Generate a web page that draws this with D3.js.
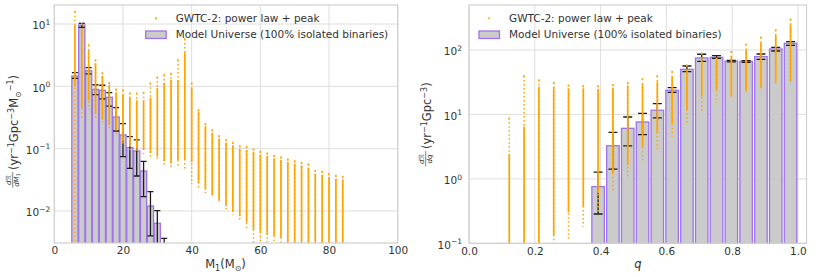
<!DOCTYPE html>
<html><head><meta charset="utf-8">
<script src="https://cdn.jsdelivr.net/npm/d3@7"></script>
<style>body{margin:0;background:#fff} svg{display:block} text{font-family:"DejaVu Sans",sans-serif}</style>
</head><body><svg id="c" width="818" height="277"></svg>
<script>
// ---------- Left panel: primary mass ----------
const m1Bins   = [6, 8, 10, 12, 14, 16, 18, 20, 22, 24, 26, 28, 30, 32];
const m1Rate   = [1.47, 9.64, 1.78, 0.895, 0.863, 0.667, 0.322, 0.166, 0.104, 0.0917, 0.0438, 0.0120, 0.00634, 0.0025];
const m1ErrHi  = [1.66, 10.25, 2.0, 1.06, 1.04, 0.792, 0.455, 0.252, 0.156, 0.138, 0.0627, 0.0204, 0.0101, 0.00364];
const m1ErrLo  = [1.34, 8.84, 1.58, 0.734, 0.627, 0.483, 0.192, 0.0745, 0.0483, 0.0364, 0.017, 0.00397, 0.0015, 0.001];

const m1Cols    = [6,8,10,12,14,16,18,20,22,24,26,28,30,32,34,36,38,40,42,44,46,48,50,52,54,56,58,60,62,64,66,68,70,72,74,76,78,80,82,84];
const m1ColHi   = [15.8,10,4.6,2.64,1.64,1.14,0.895,0.873,0.773,0.773,0.79,1.12,1.4,1.52,1.6,2.64,5.74,1.12,0.417,0.249,0.199,0.16,0.138,0.125,0.11,0.107,0.0977,0.0894,0.0843,0.0771,0.0726,0.0674,0.0633,0.0595,0.0561,0.0443,0.0427,0.0392,0.0368,0.0355];
const m1ColDHi  = [9.6,8.6,3.8,2.36,1.46,1.05,0.8,0.73,0.68,0.6,0.6,0.65,0.94,1.12,1.26,1.26,3.5,0.94,0.39,0.23,0.18,0.145,0.125,0.113,0.1,0.095,0.088,0.08,0.076,0.07,0.066,0.061,0.057,0.054,0.05,0.04,0.038,0.035,0.033,0.032];
const m1ColDLo  = [1.0,0.45,0.6,0.36,0.29,0.24,0.2,0.13,0.11,0.1,0.095,0.085,0.075,0.063,0.058,0.066,0.066,0.061,0.028,0.022,0.018,0.015,0.012,0.0098,0.0082,0.0065,0.005,0.0045,0.0042,0.004,0.0037,0.003,0.003,0.003,0.003,0.003,0.003,0.003,0.003,0.003];
const m1ColLo   = [0.0032,0.3,0.42,0.3,0.25,0.2,0.17,0.11,0.095,0.088,0.08,0.072,0.063,0.055,0.049,0.049,0.045,0.027,0.0234,0.0194,0.0162,0.0134,0.0104,0.0086,0.0072,0.0053,0.003,0.003,0.003,0.003,0.003,0.003,0.003,0.003,0.003,0.003,0.003,0.003,0.003,0.003];

const m1Ticks  = [0, 20, 40, 60, 80, 100];
const m1YTicks = [0.01, 0.1, 1, 10];

// ---------- Right panel: mass ratio ----------
const qBins   = [0.3925,0.4375,0.4825,0.5275,0.5725,0.6175,0.6625,0.7075,0.7525,0.7975,0.8425,0.8875,0.9325,0.9775];
const qRate   = [0.757,3.27,6.08,7.64,11.6,23.7,50.1,75.2,76.9,67.5,66.7,78.9,103.7,126.9];
const qErrHi  = [1.27,5.27,9.12,10.4,14.7,26.0,56.4,85.8,81.6,69.2,68.3,86.7,110,134.6];
const qErrLo  = [0.285,1.42,3.24,4.85,8.81,22.0,46.2,66.7,74.3,65.2,64.4,71.6,96.5,118];

const qCols   = [0.1225,0.1675,0.2125,0.2575,0.3025,0.3475,0.3925,0.4375,0.4825,0.5275,0.5725,0.6175,0.6625,0.7075,0.7525,0.7975,0.8425,0.8875,0.9325,0.9775];
const qColHi  = [8.7,39.5,34,31,28.3,27.6,27.6,28.8,31,35.6,39.5,46,58,89,74,94,122,157,204,299];
const qColDHi = [2.4,6.5,27,27,25.4,25.4,25,26,28,30,32,38,50,75,70,80,100,130,170,250];
const qColDLo = [0.09,0.09,0.09,0.13,0.3,0.37,0.6,1.23,1.64,3.16,5.1,7.3,11.7,18.9,24,19,22.5,25.4,32,32];
const qColLo  = [0.09,0.09,0.09,0.1,0.11,0.18,0.3,0.63,1.08,1.78,2.88,4.5,6.9,10.4,15,19,22.5,25.4,28,30];

const qTicks  = [0, 0.2, 0.4, 0.6, 0.8, 1.0];
const qYTicks = [0.1, 1, 10, 100];

const legendLabels = ["GWTC-2: power law + peak", "Model Universe (100% isolated binaries)"];

// ---------- drawing ----------
const svg = d3.select("#c");
const ORANGE = "#ffa500", BARFILL = "#cbcbcb", BAREDGE = "#9d74ec", GRID = "#dedede", FRAME = "#cfcfcf", TXT = "#333";

function supLabel(sel, v) {
  const e = Math.round(Math.log10(v));
  sel.text(null);
  sel.append("tspan").text("10");
  sel.append("tspan").attr("dy", -4.5).attr("font-size", 7.5).text(e < 0 ? "\u2212" + (-e) : String(e));
}

function panel(o) {
  const g = svg.append("g");
  const x = d3.scaleLinear().domain(o.xDomain).range([o.x0, o.x1]);
  const y = d3.scaleLog().domain(o.yDomain).range([o.y1, o.y0]);
  const cid = "clip" + o.id;
  svg.append("clipPath").attr("id", cid).append("rect")
    .attr("x", o.x0).attr("y", o.y0).attr("width", o.x1 - o.x0).attr("height", o.y1 - o.y0);

  // grid
  g.selectAll(".gx").data(o.xTicks).join("line")
    .attr("x1", d => x(d)).attr("x2", d => x(d)).attr("y1", o.y0).attr("y2", o.y1)
    .attr("stroke", GRID).attr("stroke-width", 1);
  g.selectAll(".gy").data(o.yTicks).join("line")
    .attr("x1", o.x0).attr("x2", o.x1).attr("y1", d => y(d)).attr("y2", d => y(d))
    .attr("stroke", GRID).attr("stroke-width", 1);

  const plot = g.append("g").attr("clip-path", `url(#${cid})`);
  // bars
  plot.selectAll("rect.bar").data(o.bins).join("rect").attr("class", "bar")
    .attr("x", d => x(d - o.barW / 2)).attr("width", d => x(d + o.barW / 2) - x(d - o.barW / 2))
    .attr("y", (d, i) => y(o.rate[i])).attr("height", (d, i) => Math.max(0, o.y1 + 2 - y(o.rate[i])))
    .attr("fill", BARFILL).attr("stroke", BAREDGE).attr("stroke-width", 1.3);
  // error bars
  const eb = plot.selectAll("g.eb").data(o.bins).join("g").attr("class", "eb")
    .attr("stroke", "#1c1c1c").attr("stroke-width", 1.3);
  eb.append("line").attr("x1", d => x(d)).attr("x2", d => x(d))
    .attr("y1", (d, i) => y(o.errHi[i])).attr("y2", (d, i) => y(o.errLo[i]));
  eb.append("line").attr("x1", d => x(d) - o.cap).attr("x2", d => x(d) + o.cap)
    .attr("y1", (d, i) => y(o.errHi[i])).attr("y2", (d, i) => y(o.errHi[i]));
  eb.append("line").attr("x1", d => x(d) - o.cap).attr("x2", d => x(d) + o.cap)
    .attr("y1", (d, i) => y(o.errLo[i])).attr("y2", (d, i) => y(o.errLo[i]));

  // orange scatter columns
  const sc = plot.selectAll("g.sc").data(o.cols).join("g").attr("class", "sc");
  sc.append("line").attr("x1", d => x(d)).attr("x2", d => x(d))
    .attr("y1", (d, i) => y(o.cHi[i])).attr("y2", (d, i) => y(o.cLo[i]))
    .attr("stroke", ORANGE).attr("stroke-width", 1.5).attr("stroke-dasharray", "1.4,2.6");
  sc.append("line").attr("x1", d => x(d)).attr("x2", d => x(d))
    .attr("y1", (d, i) => y(o.cDHi[i])).attr("y2", (d, i) => y(o.cDLo[i]))
    .attr("stroke", ORANGE).attr("stroke-width", 1.7);
  sc.append("rect").attr("x", d => x(d) - 0.8).attr("y", (d, i) => y(o.cHi[i]) - 0.8)
    .attr("width", 1.6).attr("height", 1.6).attr("fill", ORANGE);

  // frame
  g.append("rect").attr("x", o.x0).attr("y", o.y0).attr("width", o.x1 - o.x0).attr("height", o.y1 - o.y0)
    .attr("fill", "none").attr("stroke", FRAME).attr("stroke-width", 1.2);

  // axes
  const ax = g.append("g").attr("transform", `translate(0,${o.y1})`)
    .call(d3.axisBottom(x).tickValues(o.xTicks).tickSize(0).tickPadding(4).tickFormat(o.xFmt));
  ax.select(".domain").remove();
  ax.selectAll("text").attr("font-size", 10.5).attr("fill", TXT).attr("font-family", "DejaVu Sans");
  const ay = g.append("g").attr("transform", `translate(${o.x0},0)`)
    .call(d3.axisLeft(y).tickValues(o.yTicks).tickSize(0).tickPadding(o.yPad));
  ay.select(".domain").remove();
  ay.selectAll("text").attr("font-size", 10.5).attr("fill", TXT).attr("font-family", "DejaVu Sans")
    .attr("dy", "0.45em").each(function (d) { supLabel(d3.select(this), d); });

  // legend
  const lg = g.append("g");
  lg.append("rect").attr("x", o.legX - 20.7).attr("y", 17.4).attr("width", 1.8).attr("height", 1.8).attr("fill", ORANGE);
  lg.append("rect").attr("x", o.legX - 30).attr("y", 31).attr("width", 20.5).attr("height", 7.5)
    .attr("fill", BARFILL).attr("stroke", BAREDGE).attr("stroke-width", 1.3);
  lg.selectAll("text").data(legendLabels).join("text")
    .attr("x", o.legX).attr("y", (d, i) => 22 + i * 16.2)
    .attr("font-size", 10.5).attr("fill", TXT).text(d => d);
  return g;
}

panel({
  id: "L", x0: 54.3, x1: 397.7, y0: 5, y1: 243,
  xDomain: [0, 100], yDomain: [0.00306, 20.2],
  xTicks: m1Ticks, yTicks: m1YTicks, xFmt: d3.format("d"), yPad: 4,
  bins: m1Bins, rate: m1Rate, errHi: m1ErrHi, errLo: m1ErrLo, barW: 1.8, cap: 3,
  cols: m1Cols, cHi: m1ColHi, cDHi: m1ColDHi, cDLo: m1ColDLo, cLo: m1ColLo,
  legX: 175.7
});
panel({
  id: "R", x0: 469, x1: 806.5, y0: 5, y1: 243.3,
  xDomain: [0, 1.026], yDomain: [0.1, 499],
  xTicks: qTicks, yTicks: qYTicks, xFmt: d3.format(".1f"), yPad: 7,
  bins: qBins, rate: qRate, errHi: qErrHi, errLo: qErrLo, barW: 0.038, cap: 4.5,
  cols: qCols, cHi: qColHi, cDHi: qColDHi, cDLo: qColDLo, cLo: qColLo,
  legX: 509
});

// axis titles
const xl = svg.append("text").attr("x", 225.5).attr("y", 268).attr("text-anchor", "middle")
  .attr("font-size", 11.5).attr("fill", TXT);
xl.append("tspan").text("M");
xl.append("tspan").attr("dy", 2.5).attr("font-size", 8).text("1");
xl.append("tspan").attr("dy", -2.5).text("(M");
xl.append("tspan").attr("dy", 2.5).attr("font-size", 8).text("\u2299");
xl.append("tspan").attr("dy", -2.5).text(")");

svg.append("text").attr("x", 638).attr("y", 268).attr("text-anchor", "middle")
  .attr("font-size", 11.5).attr("font-style", "italic").attr("fill", TXT).text("q");

function ylabel(tx, ty, num, den, denSub, parts) {
  const g = svg.append("g").attr("transform", `translate(${tx},${ty}) rotate(-90)`).attr("fill", TXT);
  const fw = 16;
  g.append("text").attr("x", fw / 2).attr("y", -8).attr("text-anchor", "middle")
    .attr("font-size", 7).attr("font-style", "italic").text(num);
  g.append("line").attr("x1", 0.5).attr("x2", fw).attr("y1", -6.3).attr("y2", -6.3)
    .attr("stroke", TXT).attr("stroke-width", 0.6);
  const d = g.append("text").attr("x", fw / 2).attr("y", -0.5).attr("text-anchor", "middle")
    .attr("font-size", 7).attr("font-style", "italic");
  d.append("tspan").text(den);
  if (denSub) d.append("tspan").attr("dy", 1.5).attr("font-size", 5).attr("font-style", "normal").text(denSub);
  const t = g.append("text").attr("x", fw + 2).attr("y", -1).attr("font-size", 11.5);
  parts.forEach(p => {
    t.append("tspan").attr("dy", p[1]).attr("font-size", p[2] || 11.5).text(p[0]);
  });
}
ylabel(19, 188, "d\u211B", "dM", "1", [
  ["(yr", 0], ["\u22121", -4.5, 8], ["Gpc", 4.5], ["\u22123", -4.5, 8], ["M", 4.5],
  ["\u2299", 2.5, 8], ["\u22121", -7.5, 8], [")", 5]
]);
ylabel(432, 167, "d\u211B", "dq", null, [
  ["(yr", 0], ["\u22121", -4.5, 8], ["Gpc", 4.5], ["\u22123", -4.5, 8], [")", 4.5]
]);
</script></body></html>
